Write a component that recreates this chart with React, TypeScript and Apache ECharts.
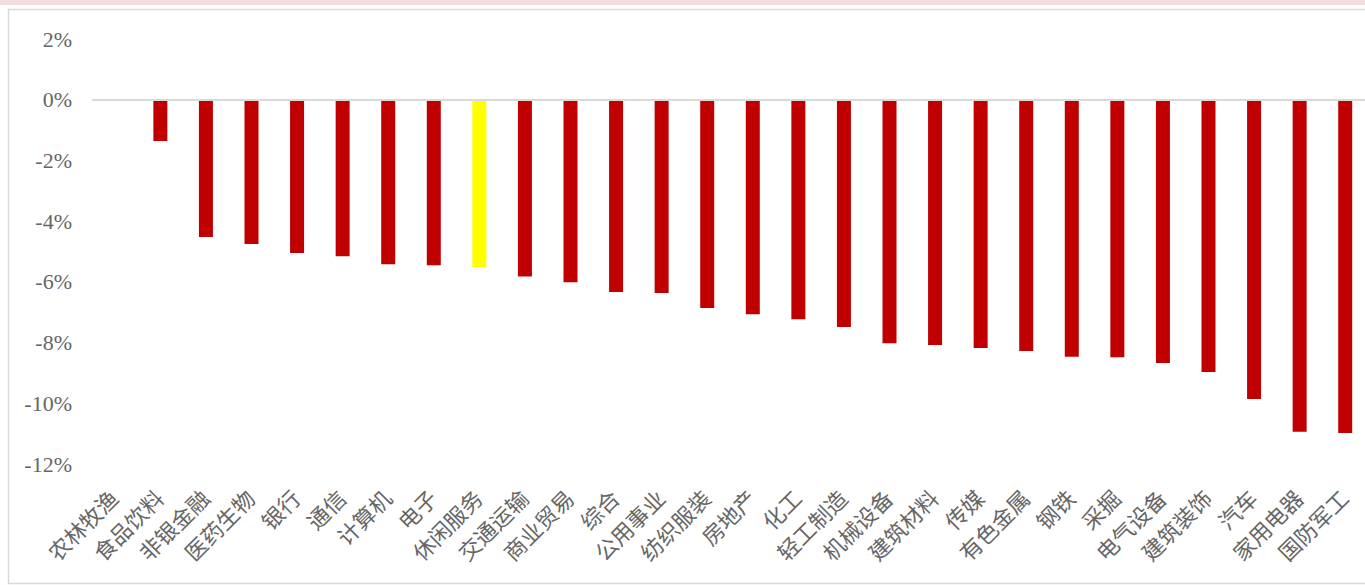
import React, { useEffect, useRef } from "react";
import * as echarts from "echarts";

const categories = ["农林牧渔","食品饮料","非银金融","医药生物","银行","通信","计算机","电子","休闲服务","交通运输","商业贸易","综合","公用事业","纺织服装","房地产","化工","轻工制造","机械设备","建筑材料","传媒","有色金属","钢铁","采掘","电气设备","建筑装饰","汽车","家用电器","国防军工"];
const values = [-0.02,-1.36,-4.52,-4.75,-5.05,-5.16,-5.42,-5.45,-5.51,-5.82,-6.01,-6.33,-6.37,-6.86,-7.07,-7.23,-7.49,-8.02,-8.08,-8.18,-8.28,-8.47,-8.48,-8.67,-8.97,-9.86,-10.94,-10.98];
const highlight = "休闲服务";
const yMin = -12;
const yMax = 2;
const yStep = 2;

const FONT = "'Liberation Serif', 'Noto Sans CJK SC', serif";

export default function App() {
  const ref = useRef<HTMLDivElement>(null);
  useEffect(() => {
    if (!ref.current) return;
    const chart = echarts.init(ref.current, null, { renderer: "svg" });
    chart.setOption({
      animation: false,
      backgroundColor: "#ffffff",
      graphic: [
        { type: "rect", shape: { x: 0, y: 0, width: 1400, height: 5 }, style: { fill: "#f2dcdc" }, silent: true },
        { type: "rect", shape: { x: 8.5, y: 9.5, width: 1400, height: 574 }, style: { fill: "none", stroke: "#d9d9d9", lineWidth: 1.5 }, silent: true },
      ],
      grid: { left: 92, right: 2, top: 39, bottom: 121, containLabel: false },
      xAxis: {
        type: "category",
        data: categories,
        axisLine: { show: false, onZero: false },
        axisTick: { show: false },
        axisLabel: { interval: 0, rotate: 45, margin: 31, color: "#666666", fontSize: 22, fontFamily: FONT },
      },
      yAxis: {
        type: "value",
        min: yMin,
        max: yMax,
        interval: yStep,
        axisLine: { show: false },
        axisTick: { show: false },
        splitLine: { show: false },
        axisLabel: { margin: 20, color: "#666666", fontSize: 22, fontFamily: FONT, formatter: (v: number) => v + "%" },
      },
      series: [
        {
          type: "bar",
          barWidth: 14,
          data: categories.map((c, i) => ({
            value: values[i],
            itemStyle: { color: c === highlight ? "#ffff00" : "#c00000" },
          })),
          markLine: {
            silent: true,
            symbol: "none",
            label: { show: false },
            lineStyle: { color: "#d9d9d9", width: 2, type: "solid" },
            data: [{ yAxis: 0 }],
          },
        },
      ],
    });
    return () => chart.dispose();
  }, []);
  return (
    <div style={{ position: "fixed", left: 0, top: 0, width: 1365, height: 585, overflow: "hidden", background: "#fff" }}>
      <div ref={ref} style={{ width: 1370, height: 585 }} />
    </div>
  );
}
